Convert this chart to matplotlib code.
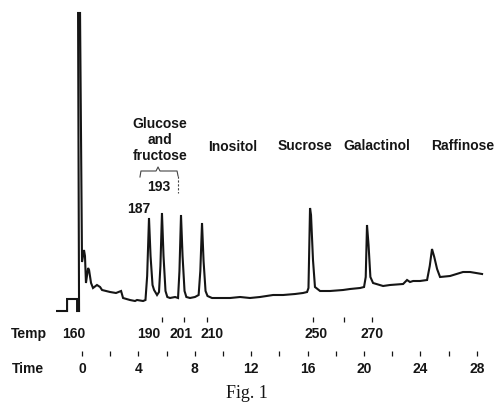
import matplotlib
matplotlib.use("Agg")
import matplotlib.pyplot as plt

# ---- chromatogram trace (time in min, detector response, arbitrary units) ----
trace_time = [-1.77, -1.06, -1.06, -0.35, -0.35, -0.21, -0.28, -0.14, 0.00, 0.14, 0.21, 0.28,
              0.43, 0.50, 0.64, 0.78, 1.06, 1.28, 1.42, 1.99, 2.41, 2.77, 2.91, 3.40, 3.76,
              3.90, 4.33, 4.50, 4.62, 4.75, 4.86, 5.00, 5.11, 5.32, 5.46, 5.56, 5.67, 5.78,
              5.92, 6.05, 6.24, 6.60, 6.81, 6.91, 7.02, 7.13, 7.27, 7.40, 7.66, 8.01, 8.27,
              8.39, 8.51, 8.62, 8.76, 8.90, 9.22, 9.79, 10.50, 11.21, 11.91, 12.62, 13.55,
              14.26, 15.11, 15.67, 15.96, 16.06, 16.17, 16.24, 16.38, 16.52, 16.88, 17.59,
              18.51, 19.01, 19.72, 20.00, 20.12, 20.21, 20.32, 20.45, 20.64, 21.35, 21.84,
              22.77, 23.05, 23.26, 23.48, 23.97, 24.47, 24.66, 24.82, 24.98, 25.18, 25.39,
              26.10, 27.02, 27.52, 28.37]
trace_resp = [0, 0, 12, 12, 0, 0, 298, 298, 49, 61, 55, 28,
              43, 41, 28, 23, 26, 24, 21, 19, 18, 20, 13, 11, 10,
              11, 10, 11, 35, 93, 55, 26, 21, 16, 19, 45, 98, 55,
              20, 14, 13, 14, 13, 40, 96, 55, 20, 14, 13, 14, 16,
              40, 88, 50, 20, 15, 13, 13, 13, 14, 13, 14, 16,
              16, 17, 18, 19, 23, 103, 96, 51, 24, 20, 20,
              21, 22, 23, 24, 34, 86, 66, 34, 28, 25, 26,
              27, 31, 29, 30, 30, 31, 45, 62, 54, 42, 34,
              35, 39, 39, 37]

# ---- axis annotations ----
time_ticks = [0, 2, 4, 6, 8, 10, 12, 14, 16, 18, 20, 22, 24, 26, 28]
time_labels = ["0", "4", "8", "12", "16", "20", "24", "28"]
time_label_pos = [0, 4, 8, 12, 16, 20, 24, 28]
temp_ticks = [5.67, 7.23, 8.87, 16.4, 18.6, 20.6]
temp_labels = ["160", "190", "201", "210", "250", "270"]
temp_label_pos = [-0.57, 4.75, 7.0, 9.2, 16.6, 20.6]

peak_names = ["Glucose\nand\nfructose", "Inositol", "Sucrose", "Galactinol", "Raffinose"]
peak_name_pos = [5.53, 10.71, 15.82, 20.92, 27.02]
peak_name_y = [171, 164, 165, 165, 165]

fig = plt.figure(figsize=(4.98, 4.03), dpi=100)
ax = fig.add_axes([0, 0, 1, 1])
ax.set_xlim(-5.816, 29.50)
ax.set_ylim(-92, 311)
ax.axis("off")

ink = "#151515"
ax.plot(trace_time, trace_resp, color=ink, lw=1.5, solid_joinstyle="miter")

font = dict(family="Liberation Sans", weight="bold", size=10, color=ink)

# time row
ax.vlines(time_ticks, -45, -40, color=ink, lw=0.9)
for t, lab in zip(time_label_pos, time_labels):
    ax.text(t, -58, lab, ha="center", va="center", **font)
ax.text(-3.83, -58, "Time", ha="center", va="center", **font)

# temperature row
ax.vlines(temp_ticks, -11, -6, color=ink, lw=0.9)
for t, lab in zip(temp_label_pos, temp_labels):
    ax.text(t, -23, lab, ha="center", va="center", **font)
ax.text(-3.76, -23, "Temp", ha="center", va="center", **font)

# peak names
for name, t, y in zip(peak_names, peak_name_pos, peak_name_y):
    ax.text(t, y, name, ha="center", va="center", multialignment="center",
            linespacing=1.15, **font)

# brace over glucose/fructose peaks
ax.plot([4.11, 4.18, 5.25, 5.39, 5.53, 6.74, 6.81], [134, 140, 140, 144, 140, 140, 135],
        color="#444444", lw=0.8)
ax.plot([6.81, 6.81], [135, 118], color="#444444", lw=0.8, ls=(0, (2, 1.5)))
ax.text(5.46, 124, "193", ha="center", va="center", **font)
ax.text(4.04, 102, "187", ha="center", va="center", **font)

ax.text(11.70, -82, "Fig. 1", ha="center", va="center", family="Liberation Serif",
        size=13, color=ink)

fig.savefig("out.png", dpi=100, facecolor="white")
